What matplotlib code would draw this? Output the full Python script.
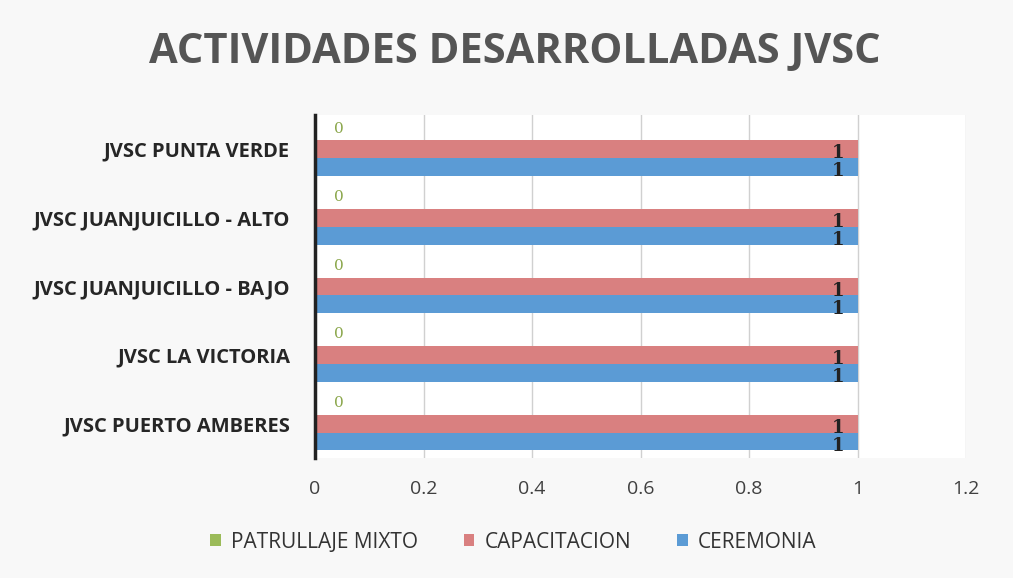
import matplotlib
matplotlib.use("Agg")
import matplotlib.pyplot as plt
import numpy as np

categories = ["JVSC PUERTO AMBERES", "JVSC LA VICTORIA", "JVSC JUANJUICILLO - BAJO",
              "JVSC JUANJUICILLO - ALTO", "JVSC PUNTA VERDE"]
patrullaje = [0, 0, 0, 0, 0]
capacitacion = [1, 1, 1, 1, 1]
ceremonia = [1, 1, 1, 1, 1]
series_names = ["PATRULLAJE MIXTO", "CAPACITACION", "CEREMONIA"]
xticks = [0, 0.2, 0.4, 0.6, 0.8, 1, 1.2]
xtick_labels = ["0", "0.2", "0.4", "0.6", "0.8", "1", "1.2"]

plt.rcParams['font.family'] = ['Open Sans', 'DejaVu Sans']

fig = plt.figure(figsize=(10.13, 5.78), dpi=100, facecolor='#f8f8f8')
ax = fig.add_axes([0.311, 0.2076, 0.6426, 0.5934])
ax.set_facecolor('white')

y = np.arange(len(categories))
h = 0.26
colors = ['#9bbb59', '#d98080', '#5b9bd5']
b_green = ax.barh(y + h, patrullaje, height=h, color=colors[0], label=series_names[0])
b_red = ax.barh(y, capacitacion, height=h, color=colors[1], label=series_names[1])
b_blue = ax.barh(y - h, ceremonia, height=h, color=colors[2], label=series_names[2])

for i, v in enumerate(patrullaje):
    ax.annotate(str(v), (v, y[i] + h), xytext=(14, 2), textcoords='offset points',
                ha='left', va='center', color='#8aa64a', fontsize=11, family='DejaVu Serif')
for vals, off in ((capacitacion, 0), (ceremonia, -h)):
    for i, v in enumerate(vals):
        ax.annotate(str(v), (v, y[i] + off), xytext=(-14, -3), textcoords='offset points',
                    ha='center', va='center', color='#222222', fontsize=13,
                    family='DejaVu Serif', fontweight='bold')

ax.set_xlim(0, 1.2)
ax.set_ylim(-0.5, len(categories) - 0.5)
ax.set_xticks(xticks)
ax.set_xticklabels(xtick_labels, fontsize=14, color='#404040')
ax.set_yticks(y)
ax.set_yticklabels(categories, fontsize=14.5, fontweight='bold', color='#262626')
ax.tick_params(axis='x', length=0, pad=16)
ax.tick_params(axis='y', length=0, pad=18)
ax.xaxis.grid(True, color='#d0d0d0', linewidth=1)
ax.set_axisbelow(True)
for s in ['top', 'right', 'bottom']:
    ax.spines[s].set_visible(False)
ax.spines['left'].set_color('#222222')
ax.spines['left'].set_linewidth(2.5)

fig.text(0.508, 0.91, "ACTIVIDADES DESARROLLADAS JVSC", ha='center', va='center',
         fontsize=30, fontweight='bold', color='#555555')

leg = fig.legend(handles=[b_green, b_red, b_blue], loc='center', bbox_to_anchor=(0.507, 0.062),
                 ncol=3, frameon=False, fontsize=15, handlelength=0.5, handleheight=0.5,
                 columnspacing=2.2, handletextpad=0.5)
for t in leg.get_texts():
    t.set_color('#333333')

fig.savefig("out.png", dpi=100, facecolor=fig.get_facecolor())
